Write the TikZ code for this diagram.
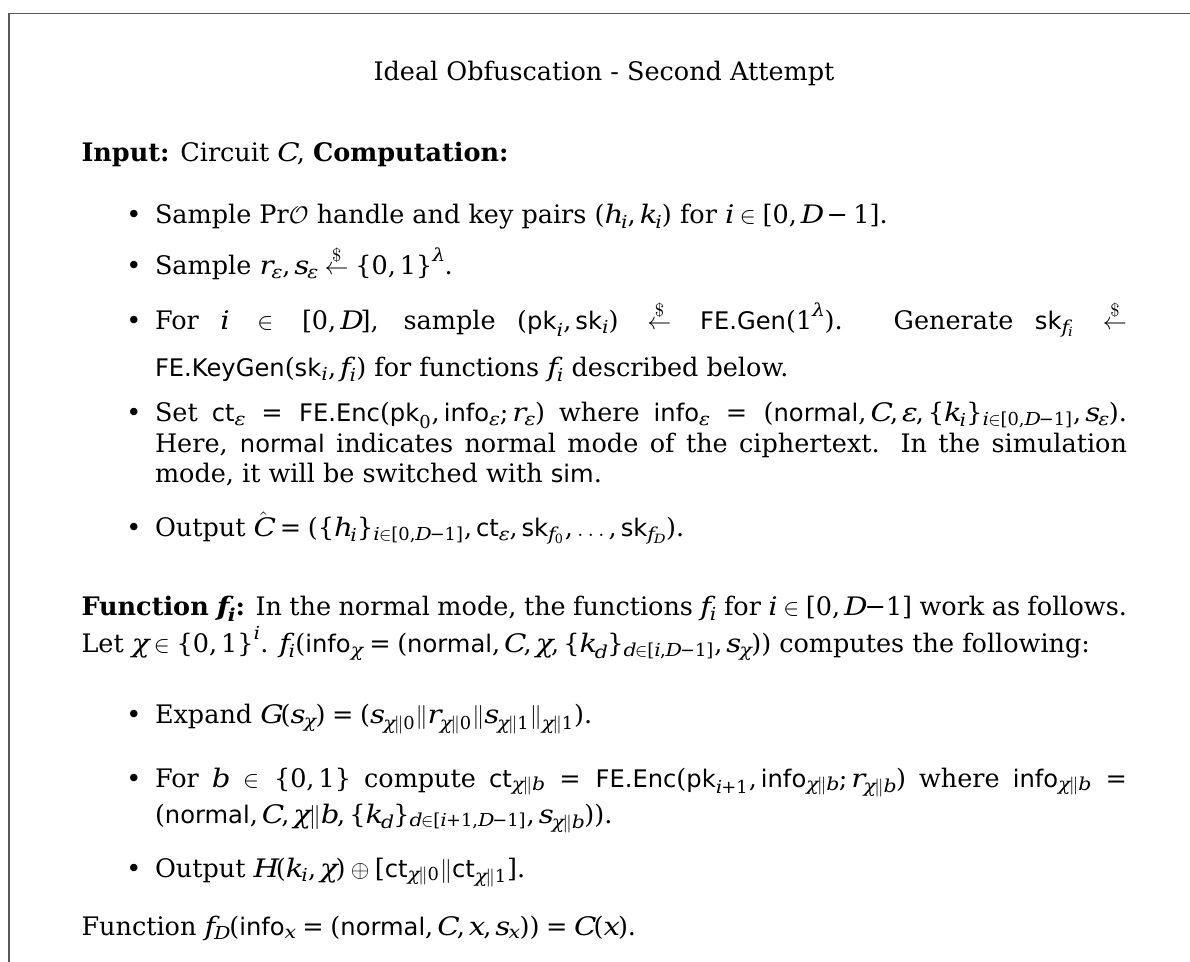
\documentclass[tikz,border=0pt]{standalone}
\usepackage{amsmath,amssymb}
\usepackage{fontspec}
\setmainfont{DejaVu Serif}
\newfontfamily\dvsfam{DejaVu Serif}[NFSSFamily=dvs,
  ItalicFeatures={FakeStretch=1.15}, BoldItalicFeatures={FakeStretch=1.15}]
\newfontfamily\algfont{DejaVu Sans}[Scale=MatchLowercase]
% math letters, digits and punctuation taken from the text face
\DeclareSymbolFont{dvl}{TU}{dvs}{m}{it}
\SetSymbolFont{dvl}{bold}{TU}{dvs}{b}{it}
\DeclareSymbolFont{dvu}{TU}{dvs}{m}{n}
\SetSymbolFont{dvu}{bold}{TU}{dvs}{b}{n}
\newcount\mcnt
\AtBeginDocument{%
  \mcnt=`a
  \loop
    \Umathcode\mcnt=7 \symdvl\mcnt
  \ifnum\mcnt<`z \advance\mcnt by 1 \repeat
  \mcnt=`A
  \loop
    \Umathcode\mcnt=7 \symdvl\mcnt
  \ifnum\mcnt<`Z \advance\mcnt by 1 \repeat
  \mcnt=`0
  \loop
    \Umathcode\mcnt=7 \symdvu\mcnt
  \ifnum\mcnt<`9 \advance\mcnt by 1 \repeat
  \Umathcode`(=4 \symdvu `(
  \Umathcode`)=5 \symdvu `)
  \Umathcode`[=4 \symdvu `[
  \Umathcode`]=5 \symdvu `]
  \Umathcode`,=6 \symdvu `,
  \Umathcode`;=6 \symdvu `;
  \Umathcode`.=0 \symdvu `.
  \Umathcode`==3 \symdvu `=
  \Umathcode`+=2 \symdvu `+
  \Umathcode`-=2 \symdvu "2212
  \Umathchardef\lbrace=4 \symdvu "7B
  \Umathchardef\rbrace=5 \symdvu "7D
  \Umathchardef\chi=0 \symdvl "03C7
  \Umathchardef\varepsilon=0 \symdvl "03B5
  \Umathchardef\lambda=0 \symdvl "03BB
}
% algorithm and data names are set upright in a sans face
\newcommand{\alg}[1]{\text{\algfont #1}}
\newcommand{\getsr}{\stackrel{\$}{\leftarrow}}
\newlength{\fullw}\setlength{\fullw}{522.75pt}
\newlength{\itemw}\setlength{\itemw}{486pt}
% justified lines of full and item width
\newcommand{\jfull}[1]{\hbox to \fullw{#1}}
\newcommand{\jitem}[1]{\hbox to \itemw{#1}}
\tikzset{
  frameline/.style={draw=black!65, line width=0.7pt},
  bodyfont/.style={font=\fontsize{12.75}{15}\selectfont},
  ln/.style={bodyfont, anchor=base west, inner sep=0pt, outer sep=0pt},
  heading/.style={bodyfont, anchor=base, inner sep=0pt, outer sep=0pt},
  bul/.style={bodyfont, anchor=base, inner sep=0pt, outer sep=0pt},
}
\begin{document}
\begin{tikzpicture}[x=0.5pt, y=-0.5pt]
\useasboundingbox (0,0) rectangle (1190,962);
\fill[white] (0,0) rectangle (1190,962);

% open frame: top and left edges
\coordinate (fbl) at (9,962);
\coordinate (ftl) at (9,13.8);
\coordinate (ftr) at (1190,13.8);
\draw[frameline] (fbl) -- (ftl) -- (ftr);

\node[heading] (title) at (604,81) {Ideal Obfuscation - Second Attempt};

\node[ln] (input) at (81.5,162) {\textbf{Input:} Circuit $C$, \textbf{Computation:}};

% computation steps
\node[bul] (d1) at (134,224) {\textbullet};
\node[ln] (s1) at (155,224) {Sample Pr$\mathcal{O}$ handle and key pairs $(h_i,k_i)$ for $i\in[0,D-1]$.};

\node[bul] (d2) at (134,275) {\textbullet};
\node[ln] (s2) at (155,275) {Sample $r_\varepsilon, s_\varepsilon \getsr \{0,1\}^\lambda$.};

\node[bul] (d3) at (134,330) {\textbullet};
\node[ln] (s3a) at (155,330) {\jitem{For $i\in[0,D]$, sample $(\alg{pk}_i,\alg{sk}_i)\getsr\alg{FE.Gen}(1^\lambda)$. Generate $\alg{sk}_{f_i}\getsr$}};
\node[ln] (s3b) at (155,377) {$\alg{FE.KeyGen}(\alg{sk}_i,f_i)$ for functions $f_i$ described below.};

\node[bul] (d4) at (134,422) {\textbullet};
\node[ln] (s4a) at (155,422) {\jitem{Set $\alg{ct}_\varepsilon=\alg{FE.Enc}(\alg{pk}_0,\alg{info}_\varepsilon;r_\varepsilon)$ where $\alg{info}_\varepsilon=(\alg{normal},C,\varepsilon,\{k_i\}_{i\in[0,D-1]},s_\varepsilon)$.}};
\node[ln] (s4b) at (155,453) {\jitem{Here, {\algfont normal} indicates normal mode of the ciphertext. In the simulation}};
\node[ln] (s4c) at (155,483) {mode, it will be switched with {\algfont sim}.};

\node[bul] (d5) at (134,537) {\textbullet};
\node[ln] (s5) at (155,537) {Output $\hat{C}=(\{h_i\}_{i\in[0,D-1]},\alg{ct}_\varepsilon,\alg{sk}_{f_0},\dots,\alg{sk}_{f_D})$.};

% the functions f_i
\node[ln] (fa) at (81.5,616) {\jfull{\textbf{Function {\boldmath$f_i$}:} In the normal mode, the functions $f_i$ for $i\in[0,D{-}1]$ work as follows.}};
\node[ln] (fb) at (81.5,653) {Let $\chi\in\{0,1\}^i$. $f_i(\alg{info}_\chi=(\alg{normal},C,\chi,\{k_d\}_{d\in[i,D-1]},s_\chi))$ computes the following:};

\node[bul] (e1) at (134,724) {\textbullet};
\node[ln] (t1) at (155,724) {Expand $G(s_\chi)=(s_{\chi\|0}\|r_{\chi\|0}\|s_{\chi\|1}\|_{\chi\|1})$.};

\node[bul] (e2) at (134,787) {\textbullet};
\node[ln] (t2a) at (155,787) {\jitem{For $b\in\{0,1\}$ compute $\alg{ct}_{\chi\|b}=\alg{FE.Enc}(\alg{pk}_{i+1},\alg{info}_{\chi\|b};r_{\chi\|b})$ where $\alg{info}_{\chi\|b}=$}};
\node[ln] (t2b) at (155,823) {$(\alg{normal},C,\chi\|b,\{k_d\}_{d\in[i+1,D-1]},s_{\chi\|b}))$.};

\node[bul] (e3) at (134,877) {\textbullet};
\node[ln] (t3) at (155,877) {Output $H(k_i,\chi)\oplus[\alg{ct}_{\chi\|0}\|\alg{ct}_{\chi\|1}]$.};

\node[ln] (fd) at (81.5,935) {Function $f_D(\alg{info}_x=(\alg{normal},C,x,s_x))=C(x)$.};
\end{tikzpicture}
\end{document}
